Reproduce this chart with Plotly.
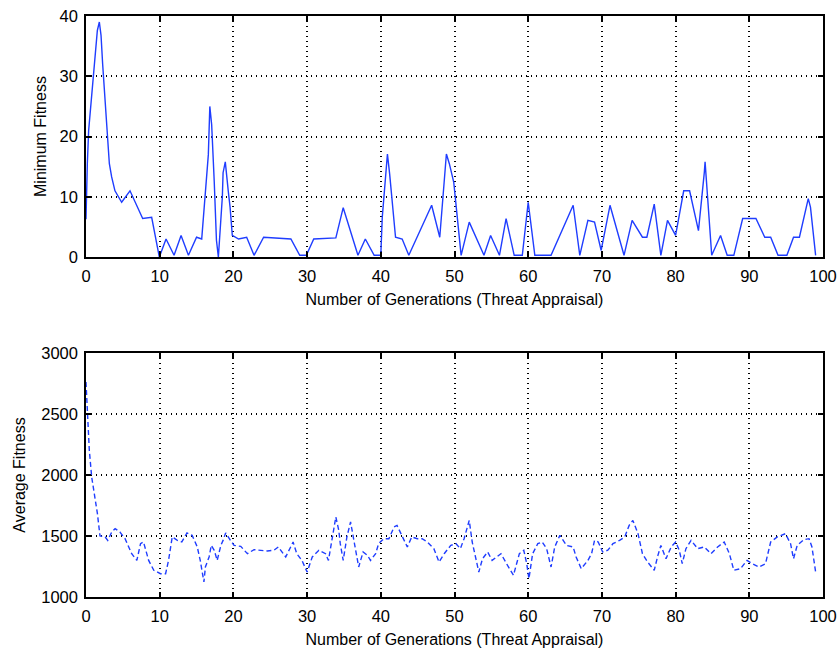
import plotly.graph_objects as go

# Minimum fitness (top panel)
gen_min = [0, 0.05, 0.18, 0.36, 0.77, 1.0, 1.22, 1.54, 1.81, 2.04, 2.26, 2.49, 2.71, 2.9, 3.17, 3.48, 3.93,
           4.84, 5.97, 7.69, 8.91, 9.95, 10.86, 11.95, 12.9, 13.9, 15.0, 15.7, 16.2, 16.6, 16.8, 17.05, 17.4,
           17.7, 17.96, 18.3, 18.5, 18.6, 18.9, 19.3, 19.55, 19.85, 20.7, 21.8, 22.8, 24.1, 27.8, 29.0, 29.9,
           30.9, 33.9, 34.9, 36.9, 37.9, 39.1, 40.0, 40.2, 40.9, 41.2, 42.0, 42.9, 43.8, 46.9, 48.0, 48.3, 48.9,
           49.3, 49.9, 50.9, 52.0, 54.0, 54.9, 56.1, 57.0, 58.1, 59.2, 60.0, 60.9, 63.1, 66.1, 67.0, 68.1, 69.0,
           69.9, 71.1, 73.0, 74.1, 75.5, 76.1, 77.1, 78.0, 78.9, 80.0, 81.1, 81.9, 83.1, 83.9, 84.0, 84.9, 86.1,
           87.0, 87.9, 89.1, 90.9, 92.1, 92.9, 93.9, 95.1, 96.0, 96.8, 98.0, 98.3, 99.0]
min_fitness = [6.3, 9.5, 15.5, 21, 27, 31, 33.7, 37.6, 39, 36.8, 32, 28, 23.8, 19.4, 15.5, 13.3, 11,
               9.1, 11, 6.4, 6.6, 0, 3, 0.3, 3.6, 0.3, 3.3, 3, 10.5, 17, 25, 22, 12.5,
               2.8, 0, 6, 10, 14, 15.8, 11, 8.3, 3.6, 3, 3.3, 0.3, 3.3, 3.0, 0.3, 0.3,
               3, 3.2, 8.2, 0.3, 3, 0.3, 0.3, 6.6, 17.1, 13.8, 3.3, 3, 0.3, 8.6, 3.3, 8.3, 17.1,
               15.5, 12.4, 0.3, 5.8, 0.3, 3.6, 0.3, 6.4, 0.3, 0.3, 9.1, 0.3, 0.3, 8.6, 0.3, 6.1, 5.8,
               1.1, 8.6, 0.3, 6.1, 3.3, 3.3, 8.8, 0.3, 6.1, 3.6, 11, 11, 4.4, 14.1, 15.8, 0.3, 3.6,
               0.3, 0.3, 6.4, 6.4, 3.3, 3.3, 0.3, 0.3, 3.3, 3.3, 9.7, 8.3, 0.3]

# Average fitness (bottom panel)
gen_avg = [0, 0.18, 0.45, 0.77, 1.23, 1.55, 1.9, 2.6, 2.95, 3.5, 3.95, 4.6, 5.3, 6.2, 6.9, 7.4, 7.8, 8.5,
           9.2, 10.1, 10.8, 11.2, 11.7, 12.4, 13.0, 13.7, 14.4, 15.1, 15.5, 16.0, 16.2, 16.7, 17.0, 17.4,
           17.8, 18.3, 18.6, 18.95, 19.6, 20.1, 21.0, 21.9, 22.8, 23.7, 24.6, 25.5, 26.1, 27.1, 28.1, 28.6,
           29.3, 30.0, 30.7, 31.6, 32.5, 32.9, 33.4, 33.9, 34.3, 34.5, 34.9, 35.4, 35.9, 36.3, 36.7, 37.0,
           37.6, 38.2, 38.6, 39.3, 39.7, 40.4, 41.1, 41.8, 42.2, 42.9, 43.6, 44.2, 44.95, 45.6, 46.3, 47.2,
           47.9, 48.6, 49.5, 50.2, 50.8, 51.3, 52.0, 52.4, 52.9, 53.3, 53.8, 54.5, 55.1, 56.3, 57.2, 58.0,
           58.8, 59.4, 59.8, 60.1, 60.6, 61.3, 61.9, 62.5, 63.1, 63.6, 64.3, 65.2, 66.1, 66.5, 67.2, 68.1,
           68.6, 69.0, 69.5, 70.1, 70.8, 71.5, 72.4, 73.1, 73.7, 74.2, 74.9, 75.5, 76.2, 77.1, 77.6, 78.0,
           78.7, 79.4, 80.0, 80.5, 80.9, 81.4, 82.1, 83.0, 83.9, 84.8, 85.7, 86.6, 87.3, 87.9, 88.8, 89.7,
           90.4, 91.3, 92.2, 92.9, 93.8, 94.9, 95.6, 96.0, 96.5, 97.4, 98.1, 98.5, 99.0]
avg_fitness = [2762, 2503, 2202, 1984, 1820, 1683, 1500, 1492, 1464, 1533, 1560, 1533, 1478, 1355, 1300, 1437,
               1451, 1300, 1219, 1191, 1191, 1300, 1492, 1464, 1451, 1525, 1505, 1410, 1300, 1123, 1246, 1328,
               1423, 1383, 1300, 1423, 1464, 1525, 1464, 1423, 1415, 1355, 1388, 1383, 1377, 1383, 1410, 1328,
               1451, 1355, 1300, 1205, 1328, 1383, 1355, 1300, 1492, 1656, 1546, 1437, 1300, 1492, 1615, 1492,
               1355, 1246, 1369, 1341, 1300, 1355, 1437, 1478, 1478, 1574, 1587, 1492, 1410, 1492, 1478, 1478,
               1451, 1396, 1287, 1355, 1423, 1437, 1396, 1478, 1628, 1451, 1314, 1205, 1314, 1369, 1300, 1355,
               1259, 1178, 1355, 1383, 1273, 1150, 1355, 1437, 1451, 1396, 1246, 1410, 1505, 1423, 1410, 1328,
               1232, 1300, 1355, 1464, 1451, 1369, 1383, 1437, 1464, 1492, 1587, 1628, 1519, 1355, 1287, 1219,
               1341, 1423, 1314, 1410, 1451, 1383, 1273, 1396, 1464, 1396, 1410, 1355, 1410, 1451, 1355, 1219,
               1232, 1300, 1273, 1246, 1273, 1451, 1492, 1519, 1437, 1314, 1423, 1470, 1478, 1410, 1205]

x_ticks = [0, 10, 20, 30, 40, 50, 60, 70, 80, 90, 100]
min_ticks = [0, 10, 20, 30, 40]
avg_ticks = [1000, 1500, 2000, 2500, 3000]
x_title = "Number of Generations (Threat Appraisal)"

LINE = "#1f3dff"
FONT = "Liberation Sans, Arial, sans-serif"

fig = go.Figure()
fig.add_trace(go.Scatter(x=gen_min, y=min_fitness, mode="lines",
                         line=dict(color=LINE, width=1.4), xaxis="x", yaxis="y", showlegend=False))
fig.add_trace(go.Scatter(x=gen_avg, y=avg_fitness, mode="lines",
                         line=dict(color=LINE, width=1.4, dash="5px,3px"), xaxis="x2", yaxis="y2",
                         showlegend=False))

axis_common = dict(showline=True, linecolor="black", linewidth=1.5, mirror="ticks",
                   ticks="inside", ticklen=5, tickcolor="black", tickwidth=1.5, showgrid=True,
                   gridcolor="black", griddash="1px,4px", gridwidth=1.5, zeroline=False,
                   automargin=False, ticklabelstandoff=3, ticklabeloverflow="allow",
                   tickfont=dict(size=16.5, color="black", family=FONT))

title_font = dict(size=16, color="black", family=FONT)

fig.update_layout(
    width=839, height=651,
    margin=dict(l=86, r=16, t=16, b=54),
    paper_bgcolor="white", plot_bgcolor="white",
    font=dict(family=FONT, color="black", size=16),
    xaxis=dict(domain=[0, 1], range=[0, 100], tickvals=x_ticks, anchor="y",
               title=dict(text=x_title, font=title_font, standoff=10), **axis_common),
    yaxis=dict(domain=[0.585, 1], range=[0, 40], tickvals=min_ticks, anchor="x",
               title=dict(text="Minimum Fitness", font=title_font, standoff=9), **axis_common),
    xaxis2=dict(domain=[0, 1], range=[0, 100], tickvals=x_ticks, anchor="y2",
                title=dict(text=x_title, font=title_font, standoff=10), **axis_common),
    yaxis2=dict(domain=[0, 0.42], range=[1000, 3000], tickvals=avg_ticks, anchor="x2",
                title=dict(text="Average Fitness", font=title_font, standoff=12), **axis_common),
)

# remove the default page margin so the 839x651 figure fills the window exactly
fig.write_html("out.html",
               config={"displayModeBar": False},
               post_script="document.body.style.margin='0px';document.body.style.overflow='hidden';")
